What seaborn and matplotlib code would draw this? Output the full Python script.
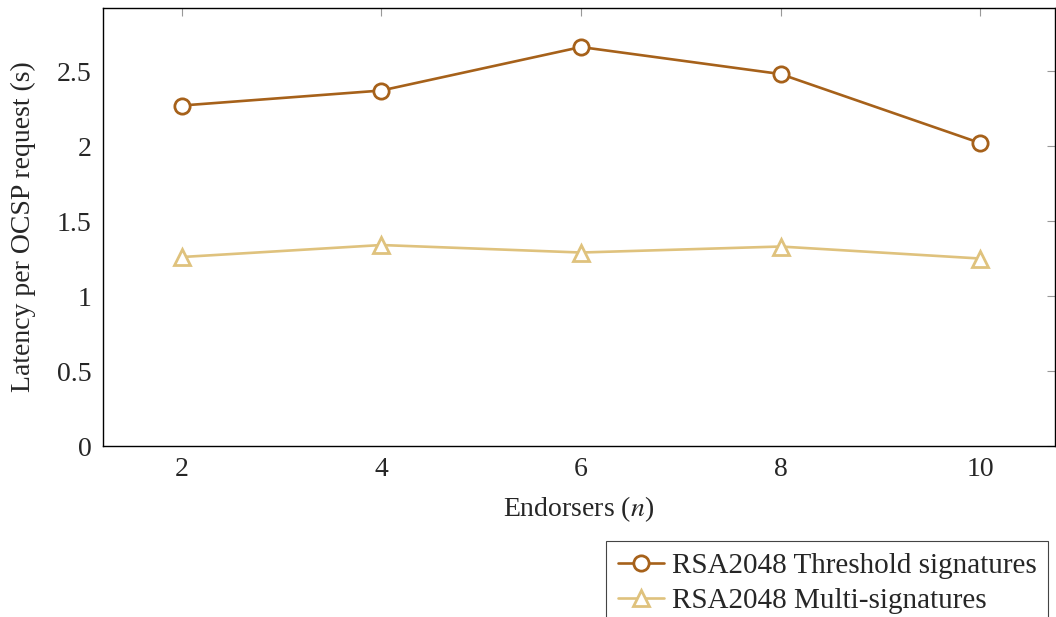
import numpy as np
import pandas as pd
import seaborn as sns
import matplotlib.pyplot as plt

# Données
endorsers = [2, 4, 6, 8, 10]
threshold = [2.27, 2.37, 2.66, 2.48, 2.02]
multisig = [1.26, 1.34, 1.29, 1.33, 1.25]
labels = ["RSA2048 Threshold signatures", "RSA2048 Multi-signatures"]
yticks = [0, 0.5, 1, 1.5, 2, 2.5]
yticklabels = ["0", "0.5", "1", "1.5", "2", "2.5"]

df = pd.DataFrame({
    "n": endorsers * 2,
    "latency": threshold + multisig,
    "scheme": [labels[0]] * 5 + [labels[1]] * 5,
})

sns.set_style("white")
plt.rcParams["font.family"] = ["Liberation Serif", "DejaVu Serif"]
plt.rcParams["mathtext.fontset"] = "stix"

fig = plt.figure(figsize=(10.56, 6.17), dpi=100)
ax = fig.add_axes([0.0975, 0.2771, 0.9015, 0.7099])

palette = {labels[0]: "#a6611a", labels[1]: "#dfc27d"}
markers = {labels[0]: "o", labels[1]: "^"}
sns.lineplot(data=df, x="n", y="latency", hue="scheme", style="scheme",
             palette=palette, markers=markers, dashes=False, ax=ax,
             linewidth=1.9, markersize=11, markerfacecolor="white",
             markeredgewidth=2)
# marqueurs creux avec bord coloré
for line, lab in zip(ax.get_lines(), labels):
    line.set_markeredgecolor(palette[lab])
    line.set_markerfacecolor("white")

ax.set_xlim(1.21, 10.75)
ax.set_ylim(0, 2.92)
ax.set_xticks(endorsers)
ax.set_yticks(yticks)
ax.set_yticklabels(yticklabels)
ax.tick_params(axis="both", direction="in", length=6, width=0.8, color="#999999",
               top=True, right=True, labelsize=20, pad=8)
for s in ax.spines.values():
    s.set_color("black")
    s.set_linewidth(1.0)

ax.set_xlabel("Endorsers ($n$)", fontsize=20, labelpad=9)
ax.set_ylabel("Latency per OCSP request (s)", fontsize=20, labelpad=15)

handles, _ = ax.get_legend_handles_labels()
for h, lab in zip(handles, labels):
    h.set_markeredgecolor(palette[lab])
    h.set_markerfacecolor("white")
leg = ax.legend(handles, labels, loc="upper right",
                bbox_to_anchor=(1048 / 1056, 1 - 541 / 617),
                bbox_transform=fig.transFigure, fontsize=21, frameon=True,
                fancybox=False, edgecolor="#444444", framealpha=1,
                handlelength=1.6, handletextpad=0.25, borderpad=0.4,
                borderaxespad=0, labelspacing=0.3)
leg.get_frame().set_linewidth(0.8)

fig.savefig("out.png", dpi=100)
